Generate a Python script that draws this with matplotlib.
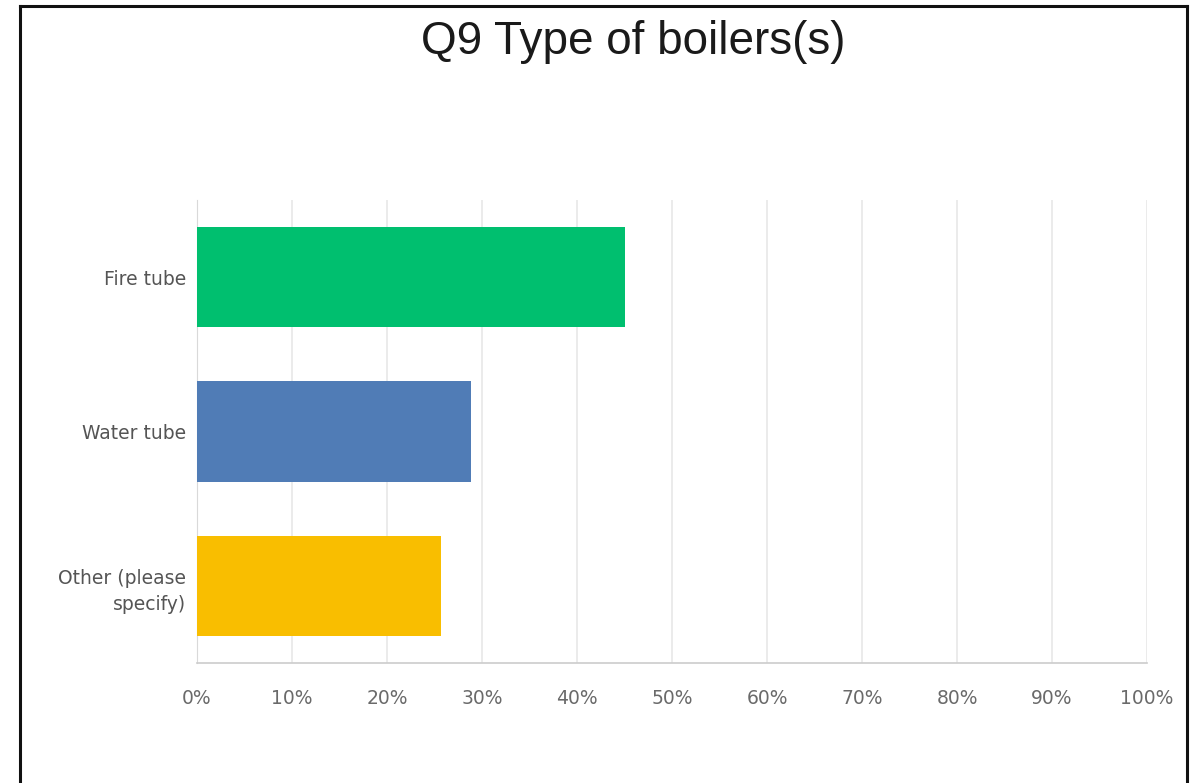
import matplotlib
matplotlib.use("Agg")
import matplotlib.pyplot as plt
from matplotlib.lines import Line2D
from matplotlib.ticker import FuncFormatter, MultipleLocator

# survey answers, Q9
categories = ["Fire tube", "Water tube", "Other (please\nspecify)"]
shares = [45.05, 28.85, 25.7]
bar_colors = ["#00bf6f", "#507cb6", "#f9be00"]

W, H = 1200, 783
fig = plt.figure(figsize=(W / 100, H / 100), dpi=100)

# thin black frame round the chart (bottom edge runs off the image)
for xs, ys in [((20, 20), (H, 6)), ((20, 1187), (6, 6)), ((1187, 1187), (6, H))]:
    fig.add_artist(Line2D([x / W for x in xs], [1 - y / H for y in ys],
                          color="#111111", lw=2.2, transform=fig.transFigure))

fig.text(633 / W, 1 - 42 / H, "Q9 Type of boilers(s)", ha="center", va="center",
         fontsize=33, family="Liberation Sans", color="#1a1a1a")

tick_font = dict(family="DejaVu Sans", fontsize=13.5)

ax = fig.add_axes([197 / W, 1 - 663 / H, 950 / W, 463 / H])
y = list(range(len(categories)))
ax.barh(y, shares, height=0.65, color=bar_colors, zorder=3)
ax.set_yticks(y)
ax.set_yticklabels(categories, color="#555555", linespacing=1.45, **tick_font)
ax.set_ylim(len(categories) - 0.5, -0.5)
ax.set_xlim(0, 100)
ax.xaxis.set_major_locator(MultipleLocator(10))
ax.xaxis.set_major_formatter(FuncFormatter(lambda v, _: f"{v:.0f}%"))
for lbl in ax.get_xticklabels():
    lbl.set_family(tick_font["family"])
    lbl.set_fontsize(tick_font["fontsize"])
    lbl.set_color("#6a6a6a")
ax.tick_params(axis="both", length=0)
ax.tick_params(axis="x", pad=19)
ax.tick_params(axis="y", pad=8)
ax.grid(axis="x", color="#e8e8e8", lw=1.2, zorder=0)
for side in ["top", "right"]:
    ax.spines[side].set_visible(False)
ax.spines["left"].set_color("#d9d9d9")
ax.spines["bottom"].set_color("#cccccc")
ax.spines["bottom"].set_linewidth(1.2)

fig.savefig("out.png", dpi=100, facecolor="white")
